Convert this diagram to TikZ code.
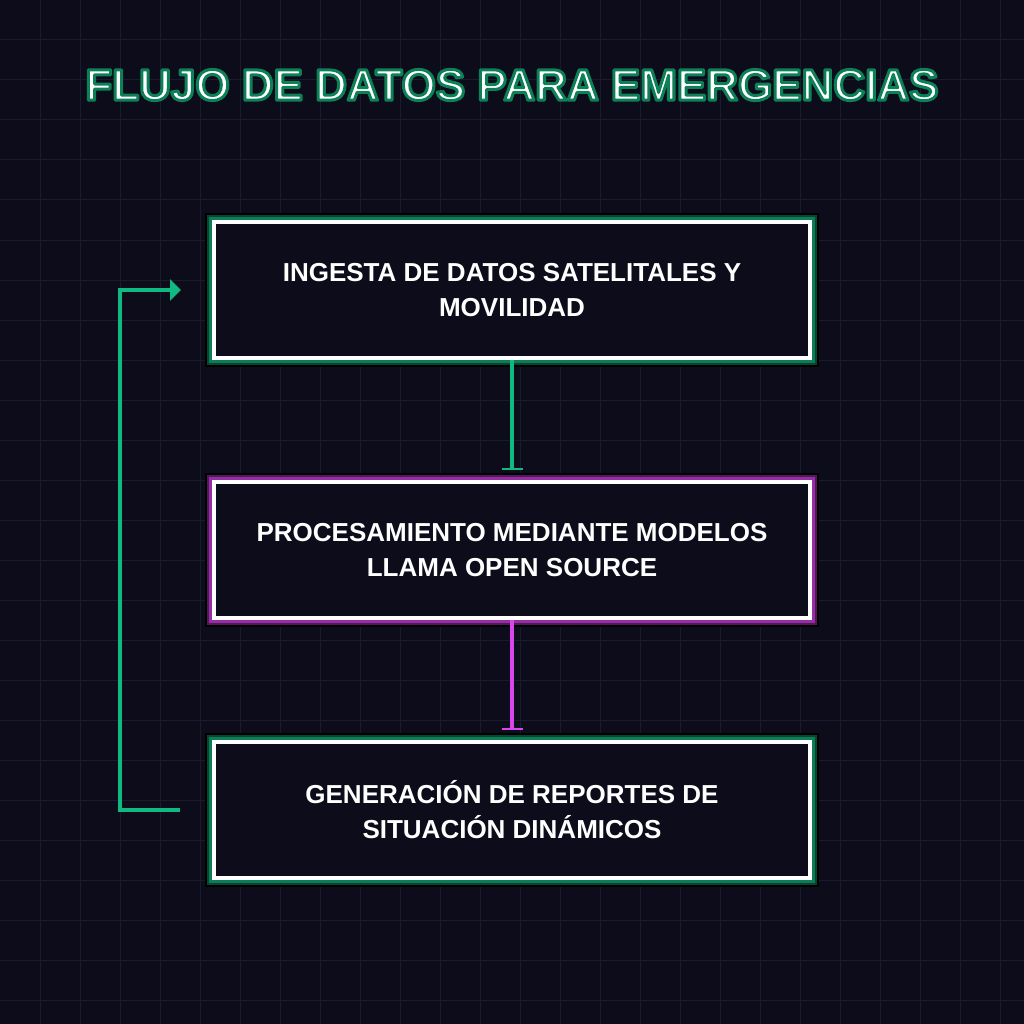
\documentclass[tikz,border=0pt]{standalone}
\usepackage{fontspec}
\setmainfont{Liberation Sans}
\usetikzlibrary{arrows.meta,positioning}
\definecolor{bgdark}{RGB}{12,12,26}
\definecolor{gridline}{RGB}{27,27,46}
\definecolor{flowgreen}{RGB}{16,185,129}
\definecolor{glowgreen}{RGB}{12,125,86}
\definecolor{deepgreen}{RGB}{6,70,48}
\definecolor{flowpink}{RGB}{217,70,239}
\definecolor{glowpurple}{RGB}{150,45,165}
\definecolor{deeppurple}{RGB}{80,25,90}
% outlined title text (fill + stroke)
\newcommand{\outlinetext}[1]{\special{pdf:literal direct 1 1 1 rg 0.05 0.50 0.34 RG 3 w 1 j 2 Tr}#1\special{pdf:literal direct 0 Tr}}
\tikzset{
  stagebox/.style={draw=white,line width=4pt,fill=bgdark,minimum width=596pt,minimum height=136pt,
    align=center,font=\fontsize{26}{35}\selectfont\bfseries,text=white},
  greenglow/.style={preaction={draw=black,line width=18pt},preaction={draw=deepgreen,line width=14pt},
    preaction={draw=glowgreen,line width=10pt}},
  purpleglow/.style={preaction={draw=black,line width=18pt},preaction={draw=deeppurple,line width=14pt},
    preaction={draw=glowpurple,line width=10pt}},
}
\begin{document}
\begin{tikzpicture}[x=1pt,y=-1pt]
\fill[bgdark] (0,0) rectangle (1024,1024);
\useasboundingbox (0,0) rectangle (1024,1024);
\foreach \g in {40,80,...,1000} {
  \draw[gridline,line width=1pt] (\g,0) -- (\g,1024);
  \draw[gridline,line width=1pt] (0,\g) -- (1024,\g);
}
% title
\node[font=\fontsize{44}{50}\selectfont\bfseries,text=white] (title) at (512,85) {\outlinetext{FLUJO DE DATOS PARA EMERGENCIAS}};
% stages
\node[stagebox,greenglow] (ingest) at (512,290) {INGESTA DE DATOS SATELITALES Y\\MOVILIDAD};
\node[stagebox,purpleglow,below=120pt of ingest] (proc) {PROCESAMIENTO MEDIANTE MODELOS\\LLAMA OPEN SOURCE};
\node[stagebox,greenglow,below=120pt of proc] (report) {GENERACIÓN DE REPORTES DE\\SITUACIÓN DINÁMICOS};
% links
\draw[flowgreen,line width=4pt,-{Bar[width=21pt,line width=2pt]},shorten >=10pt] (ingest.south) -- (proc.north);
\draw[flowpink,line width=4pt,-{Bar[width=21pt,line width=2pt]},shorten >=10pt] (proc.south) -- (report.north);
\draw[flowgreen,line width=4pt,-{Triangle[length=11pt,width=21pt]}] ([xshift=-32pt]report.west) -| ([xshift=-92pt]report.west |- ingest.west) -- ([xshift=-31pt]ingest.west);
\end{tikzpicture}
\end{document}
